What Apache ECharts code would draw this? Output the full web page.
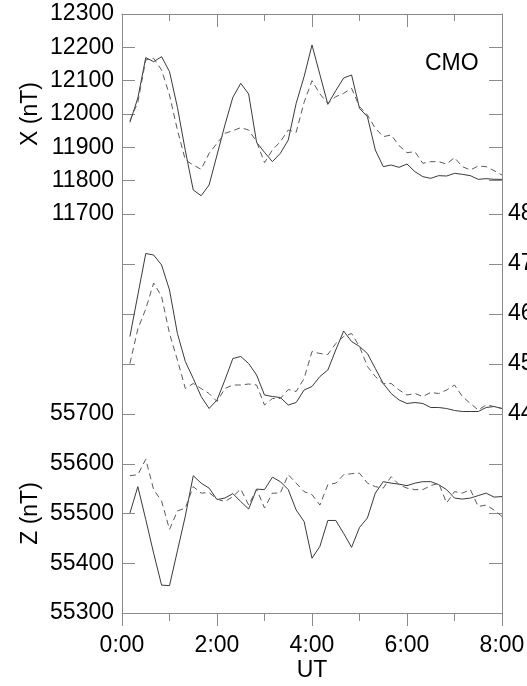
<!DOCTYPE html>
<html>
<head>
<meta charset="utf-8">
<script src="https://cdn.jsdelivr.net/npm/echarts@6/dist/echarts.min.js"></script>
<style>
html,body{margin:0;padding:0;background:#fff;}
#chart{width:527px;height:686px;}
</style>
</head>
<body>
<div id="chart"></div>
<script>
// Sample times in minutes after 0:00 UT
var times = [10,20,30,40,50,60,70,80,90,100,110,120,130,140,150,160,170,180,190,200,210,220,230,240,
             250,260,270,280,290,300,310,320,330,340,350,360,370,380,390,400,410,420,430,440,450,460,470,480];

// X component (nT)
var xSolid = [11975,12048,12169,12157,12172,12127,12020,11890,11772,11755,11787,11877,11967,12050,12092,12060,
              11915,11885,11857,11882,11922,12032,12112,12207,12118,12029,12070,12108,12117,12017,11992,11892,
              11842,11847,11840,11850,11827,11812,11807,11815,11814,11822,11819,11815,11804,11806,11804,11804];
var xDashed = [11980,12035,12162,12167,12132,12057,11952,11862,11847,11834,11882,11912,11942,11950,11959,11952,
               11917,11854,11892,11917,11952,11945,12035,12100,12060,12032,12052,12062,12077,12022,11997,11957,
               11932,11937,11905,11884,11887,11852,11857,11857,11850,11869,11842,11832,11844,11842,11830,11817];

// Y component (nT)
var ySolid = [4555,4638,4721,4718,4698,4648,4561,4505,4471,4435,4411,4428,4468,4511,4515,4501,
              4478,4438,4435,4433,4418,4423,4448,4455,4475,4488,4528,4566,4545,4535,4521,4491,
              4461,4441,4428,4421,4423,4421,4413,4413,4411,4407,4405,4405,4405,4413,4415,4411];
var yDashed = [4501,4570,4610,4662,4635,4561,4508,4451,4461,4451,4441,4425,4451,4458,4458,4460,
               4458,4418,4431,4431,4449,4445,4471,4525,4521,4519,4541,4555,4561,4535,4495,4475,
               4461,4461,4448,4438,4441,4435,4443,4441,4448,4458,4435,4421,4408,4418,4415,4411];

// Z component (nT)
var zSolid = [55501,55554,55488,55420,55356,55355,55425,55495,55576,55561,55551,55528,55531,55540,55524,55509,
              55549,55548,55573,55564,55548,55507,55484,55410,55434,55486,55486,55460,55432,55472,55491,55541,
              55564,55561,55559,55556,55561,55564,55564,55558,55548,55531,55529,55531,55536,55541,55533,55534];
var zDashed = [55576,55578,55609,55548,55525,55468,55505,55511,55554,55541,55542,55529,55524,55534,55549,55517,
               55549,55511,55541,55541,55578,55561,55544,55538,55517,55558,55561,55578,55580,55581,55561,55554,
               55551,55574,55558,55551,55548,55548,55556,55561,55521,55544,55541,55548,55514,55517,55507,55494];

var xTicks = [0, 480, 120];          // min, max, interval (minutes)
var xRange = [11700, 12300, 100];
var yRange = [4400, 4800, 100];
var zRange = [55300, 55700, 100];

function pairs(v){ return times.map(function(t,i){ return [t, v[i]]; }); }

var FONT = '"Liberation Sans", Arial, sans-serif';
var FS = 23;
var AX = '#8a8a8a';

function yAx(grid, range, pos, showLabel, name){
  var o = {
    type:'value', gridIndex:grid, position:pos, min:range[0], max:range[1], interval:range[2],
    axisLine:{show:true, onZero:false, lineStyle:{color:AX, width:1}},
    axisTick:{show:true, inside:true, length:13, lineStyle:{color:AX}},
    splitLine:{show:false},
    axisLabel:{show:showLabel, color:'#000', fontSize:FS, fontFamily:FONT, margin:pos==='left'?8:6,
      formatter:function(v){ return String(v); }}
  };
  if(name){
    o.name = name; o.nameLocation = 'middle'; o.nameGap = 80; o.nameMoveOverlap = false;
    o.nameTextStyle = {color:'#000', fontSize:FS, fontFamily:FONT};
  }
  return o;
}

var chart = echarts.init(document.getElementById('chart'), null, {renderer:'canvas'});
var option = {
  animation:false,
  backgroundColor:'#fff',
  grid:[
    {left:122, right:25, top:14, height:200, outerBoundsMode:'none', containLabel:false},
    {left:122, right:25, top:214, height:200, outerBoundsMode:'none', containLabel:false},
    {left:122, right:25, top:414, height:199, outerBoundsMode:'none', containLabel:false}
  ],
  xAxis:[
    {type:'value', gridIndex:0, position:'top', min:xTicks[0], max:xTicks[1], interval:xTicks[2],
     axisLine:{show:true, onZero:false, lineStyle:{color:AX}},
     axisTick:{show:true, inside:true, length:13, lineStyle:{color:AX}},
     minorTick:{show:true, splitNumber:2, length:7, lineStyle:{color:AX}},
     axisLabel:{show:false}, splitLine:{show:false}},
    {type:'value', gridIndex:1, min:xTicks[0], max:xTicks[1], interval:xTicks[2], show:false},
    {type:'value', gridIndex:2, position:'bottom', min:xTicks[0], max:xTicks[1], interval:xTicks[2],
     axisLine:{show:true, onZero:false, lineStyle:{color:AX}},
     axisTick:{show:true, inside:false, length:13, lineStyle:{color:AX}},
     minorTick:{show:true, splitNumber:2, length:8, lineStyle:{color:AX}},
     splitLine:{show:false},
     axisLabel:{color:'#000', fontSize:FS, fontFamily:FONT, margin:21,
       formatter:function(v){ return (v/60) + ':00'; }},
     name:'UT', nameLocation:'middle', nameGap:46, nameMoveOverlap:false,
     nameTextStyle:{color:'#000', fontSize:FS, fontFamily:FONT}}
  ],
  yAxis:[
    yAx(0, xRange, 'left', true, 'X (nT)'),
    yAx(0, xRange, 'right', false),
    yAx(1, yRange, 'left', false),
    yAx(1, yRange, 'right', true),
    yAx(2, zRange, 'left', true, 'Z (nT)'),
    yAx(2, zRange, 'right', false)
  ],
  graphic:[
    {type:'text', x:425, y:64, style:{text:'CMO', fill:'#000', font:FS+'px '+FONT, verticalAlign:'middle', align:'left'}}
  ],
  series:[
    {type:'line', xAxisIndex:0, yAxisIndex:0, data:pairs(xSolid), symbol:'none', lineStyle:{color:'#3a3a3a', width:1}},
    {type:'line', xAxisIndex:0, yAxisIndex:0, data:pairs(xDashed), symbol:'none', lineStyle:{color:'#5a5a5a', width:1, type:[6,4]}},
    {type:'line', xAxisIndex:1, yAxisIndex:3, data:pairs(ySolid), symbol:'none', lineStyle:{color:'#3a3a3a', width:1}},
    {type:'line', xAxisIndex:1, yAxisIndex:3, data:pairs(yDashed), symbol:'none', lineStyle:{color:'#5a5a5a', width:1, type:[6,4]}},
    {type:'line', xAxisIndex:2, yAxisIndex:4, data:pairs(zSolid), symbol:'none', lineStyle:{color:'#3a3a3a', width:1}},
    {type:'line', xAxisIndex:2, yAxisIndex:4, data:pairs(zDashed), symbol:'none', lineStyle:{color:'#5a5a5a', width:1, type:[6,4]}}
  ]
};
chart.setOption(option);
</script>
</body>
</html>
